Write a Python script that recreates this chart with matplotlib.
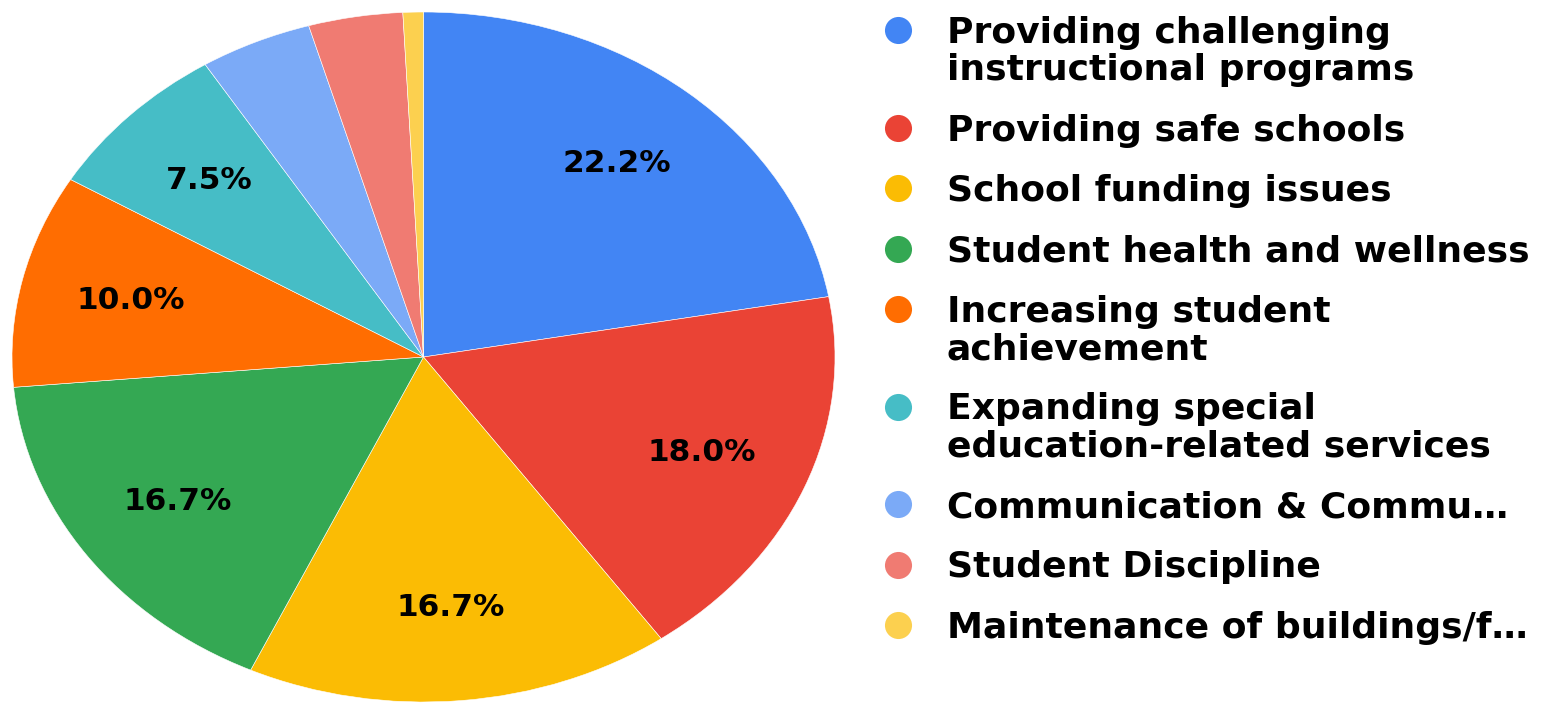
import matplotlib.pyplot as plt

plt.rcParams['font.family'] = ['DejaVu Sans']

# data (percent of responses)
categories = ['Providing challenging\ninstructional programs',
              'Providing safe schools',
              'School funding issues',
              'Student health and wellness',
              'Increasing student\nachievement',
              'Expanding special\neducation-related services',
              'Communication & Commu\u2026',
              'Student Discipline',
              'Maintenance of buildings/f\u2026']
shares = [22.2, 18.0, 16.7, 16.7, 10.0, 7.5, 4.4, 3.7, 0.8]
colors = ['#4285f4', '#ea4335', '#fbbc04', '#34a853', '#ff6d01',
          '#46bdc6', '#7baaf7', '#f07b72', '#fcd04f']

W, H = 1554, 703
fig = plt.figure(figsize=(W / 100, H / 100), dpi=100)

# pie is drawn stretched (not equal aspect), like the original
ax = fig.add_axes([12 / W, 1 / H, 823 / W, 690 / H])

def pct(p):
    return '%.1f%%' % p if p >= 5 else ''

wedges, texts, autotexts = ax.pie(shares, colors=colors, startangle=90,
                                  counterclock=False, radius=1,
                                  autopct=pct, pctdistance=0.73,
                                  wedgeprops={'linewidth': 0.4, 'edgecolor': 'white'},
                                  textprops={'fontsize': 22.5, 'fontweight': 'bold',
                                             'color': 'black'})
ax.set_aspect('auto')
ax.set_xlim(-1, 1)
ax.set_ylim(-1, 1)
ax.axis('off')

# legend drawn by hand so the dot sits on the first line of each label
lg = fig.add_axes([0, 0, 1, 1])
lg.set_xlim(0, W)
lg.set_ylim(H, 0)
lg.axis('off')

y = 30
line_h = 37
for lab, col in zip(categories, colors):
    lg.plot(898, y, 'o', color=col, markersize=19.5, markeredgewidth=0)
    lines = lab.split('\n')
    for i, ln in enumerate(lines):
        lg.text(947, y + i * line_h + 13, ln, fontsize=26, fontweight='bold',
                color='black', va='baseline', ha='left')
    y += 60.5 + line_h * (len(lines) - 1)

plt.savefig('out.png', dpi=100)
